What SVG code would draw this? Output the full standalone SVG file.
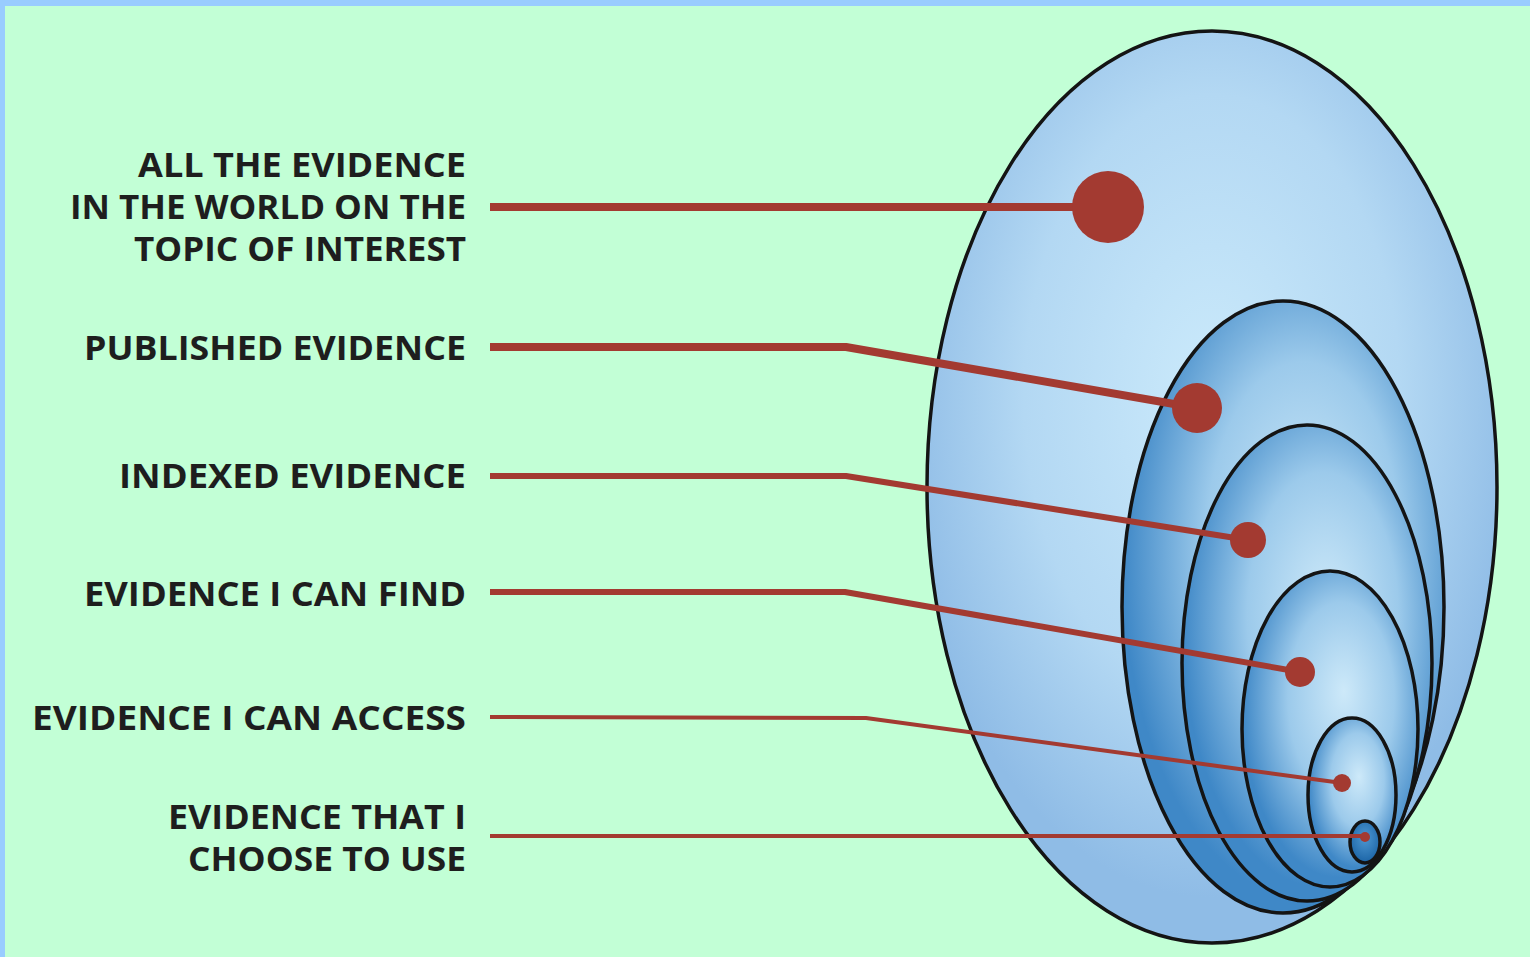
<svg xmlns="http://www.w3.org/2000/svg" width="1530" height="957" viewBox="0 0 1530 957">
<style>
.lbl{font-family:"Open Sans","Liberation Sans",sans-serif;font-weight:700;font-size:34px;fill:#1e1e1e;text-anchor:end}
.ring{stroke:#141414;stroke-width:3.5}
.wire{fill:none;stroke:#a33a31;stroke-linejoin:round}
.dot{fill:#a33a31}
</style>
<defs>
<radialGradient id="gOuter" cx="0.5" cy="0.4" r="0.55" fx="0.5" fy="0.4">
<stop offset="0" stop-color="#cbeafb"/>
<stop offset="0.6" stop-color="#b3d8f3"/>
<stop offset="1" stop-color="#8fbce6"/>
</radialGradient>
<radialGradient id="gIn" cx="0.55" cy="0.42" r="0.55" fx="0.58" fy="0.38">
<stop offset="0" stop-color="#cde9f9"/>
<stop offset="0.55" stop-color="#9ccaeb"/>
<stop offset="1" stop-color="#3f88c7"/>
</radialGradient>
<radialGradient id="gSmall" cx="0.5" cy="0.4" r="0.6">
<stop offset="0" stop-color="#4e98d2"/>
<stop offset="1" stop-color="#1b64a6"/>
</radialGradient>
</defs>
<rect x="0" y="0" width="1530" height="957" fill="#99ccff"/>
<rect x="5" y="6" width="1525" height="951" fill="#c2ffd6"/>
<g id="ellipses">
<ellipse id="e-all" class="ring" cx="1212" cy="487" rx="285" ry="456" fill="url(#gOuter)"/>
<ellipse id="e-published" class="ring" cx="1283" cy="607" rx="161" ry="306" fill="url(#gIn)"/>
<ellipse id="e-indexed" class="ring" cx="1307" cy="663" rx="125" ry="238" fill="url(#gIn)"/>
<ellipse id="e-find" class="ring" cx="1330" cy="729" rx="88" ry="158" fill="url(#gIn)"/>
<ellipse id="e-access" class="ring" cx="1352" cy="795" rx="44" ry="77" fill="url(#gIn)"/>
<ellipse id="e-choose" class="ring" cx="1365" cy="842" rx="15" ry="21" fill="url(#gSmall)"/>
</g>
<g id="connectors">
<path class="wire" stroke-width="8" d="M490 207 H1108"/>
<path class="wire" stroke-width="8" d="M490 347 H846 L1197 408"/>
<path class="wire" stroke-width="6" d="M490 476 H846 L1248 540"/>
<path class="wire" stroke-width="6" d="M490 592 H845 L1300 672"/>
<path class="wire" stroke-width="4" d="M490 717 L866 718 L1342 783"/>
<path class="wire" stroke-width="4" d="M490 836 H1365"/>
</g>
<g id="n-all">
<circle class="dot" cx="1108" cy="207" r="36"/>
<text class="lbl" x="466" y="177" textLength="328" lengthAdjust="spacingAndGlyphs">ALL THE EVIDENCE</text>
<text class="lbl" x="466" y="219" textLength="396" lengthAdjust="spacingAndGlyphs">IN THE WORLD ON THE</text>
<text class="lbl" x="466" y="261" textLength="332" lengthAdjust="spacingAndGlyphs">TOPIC OF INTEREST</text>
</g>
<g id="n-published">
<circle class="dot" cx="1197" cy="408" r="25"/>
<text class="lbl" x="466" y="360" textLength="382" lengthAdjust="spacingAndGlyphs">PUBLISHED EVIDENCE</text>
</g>
<g id="n-indexed">
<circle class="dot" cx="1248" cy="540" r="18"/>
<text class="lbl" x="466" y="488" textLength="347" lengthAdjust="spacingAndGlyphs">INDEXED EVIDENCE</text>
</g>
<g id="n-find">
<circle class="dot" cx="1300" cy="672" r="15"/>
<text class="lbl" x="466" y="606" textLength="382" lengthAdjust="spacingAndGlyphs">EVIDENCE I CAN FIND</text>
</g>
<g id="n-access">
<circle class="dot" cx="1342" cy="783" r="9"/>
<text class="lbl" x="466" y="730" textLength="434" lengthAdjust="spacingAndGlyphs">EVIDENCE I CAN ACCESS</text>
</g>
<g id="n-choose">
<circle class="dot" cx="1365" cy="837" r="5"/>
<text class="lbl" x="466" y="829" textLength="298" lengthAdjust="spacingAndGlyphs">EVIDENCE THAT I</text>
<text class="lbl" x="466" y="871" textLength="278" lengthAdjust="spacingAndGlyphs">CHOOSE TO USE</text>
</g>
</svg>
